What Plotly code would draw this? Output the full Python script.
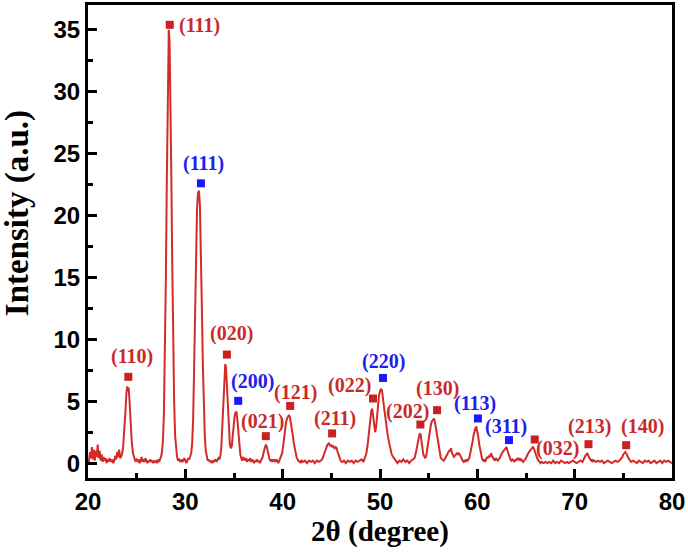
import plotly.graph_objects as go

# ---- XRD pattern ----
two_theta = [
    20.0, 20.1, 20.2, 20.3, 20.4, 20.5, 20.6, 20.7, 20.8, 20.9, 21.0, 21.1, 21.2, 21.3, 21.4, 21.5, 21.6, 21.7, 21.8, 21.9,
    22.0, 22.1, 22.2, 22.3, 22.4, 22.5, 22.6, 22.7, 22.8, 22.9, 23.0, 23.1, 23.2, 23.3, 23.45, 23.6, 23.75, 23.85, 23.95, 24.03,
    24.1, 24.17, 24.27, 24.38, 24.5, 24.62, 24.75, 24.85, 25.0, 25.1, 25.2, 25.3, 25.4, 25.5, 25.6, 25.7, 25.8, 25.9, 26.0, 26.1,
    26.2, 26.3, 26.4, 26.5, 26.6, 26.7, 26.8, 26.9, 27.0, 27.1, 27.2, 27.3, 27.4, 27.5, 27.6, 27.7, 27.8, 27.9, 28.0, 28.1,
    28.2, 28.3, 28.38, 28.45, 28.55, 28.65, 28.75, 28.85, 28.95, 29.05, 29.15, 29.25, 29.35, 29.5, 29.6, 29.7, 29.8, 29.9, 30.0, 30.1,
    30.2, 30.3, 30.4, 30.5, 30.6, 30.7, 30.8, 30.9, 31.0, 31.1, 31.2, 31.3, 31.4, 31.5, 31.6, 31.7, 31.8, 31.9, 32.0, 32.1,
    32.2, 32.3, 32.4, 32.5, 32.6, 32.7, 32.8, 32.9, 33.0, 33.1, 33.2, 33.3, 33.4, 33.5, 33.6, 33.7, 33.8, 33.9, 34.0, 34.1,
    34.18, 34.28, 34.38, 34.48, 34.58, 34.68, 34.78, 34.88, 34.98, 35.08, 35.18, 35.26, 35.35, 35.45, 35.55, 35.65, 35.75, 35.85, 35.95, 36.05,
    36.15, 36.25, 36.35, 36.45, 36.55, 36.65, 36.75, 36.85, 36.95, 37.05, 37.15, 37.25, 37.35, 37.45, 37.55, 37.65, 37.75, 37.85, 37.95, 38.05,
    38.15, 38.25, 38.35, 38.45, 38.55, 38.65, 38.75, 38.85, 38.95, 39.05, 39.15, 39.25, 39.35, 39.45, 39.55, 39.65, 39.75, 39.85, 39.95, 40.05,
    40.15, 40.25, 40.35, 40.45, 40.55, 40.65, 40.75, 40.85, 40.95, 41.05, 41.15, 41.25, 41.35, 41.45, 41.55, 41.65, 41.75, 41.85, 41.95, 42.1,
    42.3, 42.5, 42.7, 42.9, 43.1, 43.3, 43.5, 43.7, 43.9, 44.05, 44.2, 44.35, 44.5, 44.6, 44.75, 44.85, 44.95, 45.05, 45.15, 45.25,
    45.35, 45.45, 45.55, 45.65, 45.75, 45.85, 45.95, 46.1, 46.3, 46.5, 46.7, 46.9, 47.1, 47.3, 47.5, 47.7, 47.9, 48.1, 48.3, 48.45,
    48.6, 48.75, 48.9, 49.0, 49.1, 49.2, 49.3, 49.4, 49.5, 49.6, 49.7, 49.8, 49.9, 50.0, 50.1, 50.2, 50.3, 50.4, 50.5, 50.6,
    50.7, 50.8, 50.9, 51.0, 51.1, 51.2, 51.35, 51.5, 51.65, 51.8, 52.0, 52.2, 52.4, 52.6, 52.8, 53.0, 53.2, 53.4, 53.55, 53.7,
    53.85, 53.95, 54.05, 54.15, 54.25, 54.35, 54.45, 54.55, 54.65, 54.75, 54.85, 54.95, 55.05, 55.15, 55.25, 55.35, 55.45, 55.55, 55.65, 55.75,
    55.85, 55.95, 56.05, 56.15, 56.25, 56.4, 56.55, 56.7, 56.85, 57.0, 57.1, 57.2, 57.3, 57.4, 57.5, 57.6, 57.7, 57.8, 57.9, 58.0,
    58.1, 58.2, 58.3, 58.4, 58.5, 58.6, 58.7, 58.8, 58.9, 59.0, 59.1, 59.2, 59.35, 59.5, 59.6, 59.7, 59.8, 59.9, 60.0, 60.1,
    60.2, 60.3, 60.4, 60.5, 60.6, 60.7, 60.8, 60.9, 61.0, 61.1, 61.2, 61.3, 61.4, 61.5, 61.6, 61.7, 61.8, 61.9, 62.0, 62.1,
    62.2, 62.3, 62.4, 62.5, 62.6, 62.7, 62.8, 62.9, 63.0, 63.1, 63.2, 63.3, 63.4, 63.5, 63.6, 63.7, 63.8, 63.9, 64.0, 64.1,
    64.2, 64.3, 64.4, 64.5, 64.6, 64.7, 64.8, 64.9, 65.0, 65.1, 65.2, 65.3, 65.4, 65.5, 65.6, 65.7, 65.8, 65.9, 66.0, 66.1,
    66.2, 66.3, 66.4, 66.5, 66.6, 66.8, 67.0, 67.2, 67.4, 67.6, 67.8, 67.9, 68.0, 68.2, 68.4, 68.6, 68.8, 69.0, 69.2, 69.4,
    69.6, 69.8, 70.0, 70.2, 70.4, 70.6, 70.8, 70.9, 71.0, 71.1, 71.2, 71.3, 71.4, 71.5, 71.6, 71.7, 71.8, 71.9, 72.0, 72.2,
    72.4, 72.6, 72.8, 73.0, 73.2, 73.4, 73.6, 73.8, 74.0, 74.2, 74.4, 74.6, 74.8, 74.9, 75.0, 75.1, 75.2, 75.3, 75.4, 75.5,
    75.6, 75.7, 75.8, 76.0, 76.2, 76.4, 76.6, 76.8, 77.0, 77.2, 77.4, 77.6, 77.8, 78.0, 78.2, 78.4, 78.6, 78.8, 79.0, 79.2,
    79.4, 79.6, 79.8, 80.0,
]
intensity = [
    0.3, 0.1, 0.9, 0.4, 1.3, 0.3, 1.1, 0.2, 1.0, 0.5, 1.5, 0.4, 1.0, 0.2, 0.7, 0.1, 0.5, 0.2, 0.4, 0.0,
    0.3, 0.1, 0.4, 0.2, 0.1, 0.3, 0.0, 0.2, 0.6, 0.3, 0.9, 0.5, 1.1, 0.4, 0.6, 1.2, 2.6, 4.2, 5.7, 6.2,
    5.8, 6.1, 5.0, 3.2, 1.7, 0.8, 0.4, 0.2, 0.3, 0.1, 0.3, 0.0, 0.2, 0.5, 0.1, 0.3, 0.1, 0.4, 0.2, 0.0,
    0.2, 0.1, 0.3, 0.1, 0.2, 0.0, 0.2, 0.1, 0.2, 0.0, 0.3, 0.1, 0.3, 0.5, 0.9, 1.8, 4.0, 8.5, 15.0, 23.0,
    30.5, 35.0, 34.0, 30.5, 24.0, 16.5, 10.0, 5.0, 2.2, 1.0, 0.5, 0.2, 0.3, 0.1, 0.3, 0.1, 0.2, 0.4, 0.2, 0.0,
    0.2, 0.4, 0.3, 0.5, 0.8, 1.6, 3.5, 7.5, 12.5, 17.0, 20.5, 21.8, 22.0, 20.8, 17.5, 12.5, 8.0, 4.5, 2.2, 1.0,
    0.5, 0.2, 0.3, 0.1, 0.2, 0.0, 0.2, 0.1, 0.2, 0.3, 0.1, 0.2, 0.4, 0.3, 0.6, 1.3, 2.8, 4.8, 6.8, 8.0,
    7.7, 6.0, 4.0, 2.4, 1.5, 1.2, 1.4, 2.3, 3.3, 3.9, 4.1, 4.1, 3.5, 2.4, 1.3, 0.7, 0.4, 0.2, 0.5, 0.3,
    0.2, 0.4, 0.1, 0.3, 0.2, 0.4, 0.1, 0.3, 0.2, 0.0, 0.2, 0.1, 0.3, 0.1, 0.2, 0.0, 0.2, 0.3, 0.5, 0.9,
    1.2, 1.45, 1.4, 1.0, 0.6, 0.3, 0.2, 0.3, 0.1, 0.3, 0.2, 0.1, 0.3, 0.2, 0.0, 0.2, 0.3, 0.5, 0.8, 1.4,
    2.1, 2.8, 3.3, 3.6, 3.8, 3.9, 3.7, 3.3, 2.8, 2.2, 1.6, 1.1, 0.7, 0.4, 0.3, 0.1, 0.2, 0.0, 0.2, 0.1,
    0.2, 0.0, 0.2, 0.1, 0.2, 0.0, 0.2, 0.1, 0.2, 0.3, 0.6, 1.0, 1.3, 1.5, 1.6, 1.4, 1.5, 1.3, 1.4, 1.3,
    1.2, 1.3, 1.2, 0.9, 0.6, 0.4, 0.2, 0.1, 0.2, 0.0, 0.2, 0.1, 0.2, 0.0, 0.2, 0.1, 0.2, 0.3, 0.1, 0.4,
    0.8, 1.6, 2.8, 3.7, 4.2, 4.4, 3.6, 2.8, 2.5, 2.9, 3.9, 4.9, 5.5, 5.8, 6.0, 5.9, 5.4, 4.6, 4.0, 3.3,
    2.8, 2.2, 1.8, 1.4, 1.0, 0.7, 0.5, 0.3, 0.2, 0.0, 0.2, 0.1, 0.3, 0.1, 0.2, 0.0, 0.2, 0.3, 0.4, 0.9,
    1.5, 2.0, 2.3, 2.4, 2.0, 1.3, 0.7, 0.5, 0.4, 0.6, 1.1, 1.8, 2.4, 2.9, 3.2, 3.4, 3.55, 3.6, 3.3, 2.8,
    2.2, 1.6, 1.1, 0.7, 0.4, 0.3, 0.2, 0.4, 0.6, 0.8, 1.0, 1.0, 1.2, 0.8, 0.6, 0.5, 0.6, 0.7, 0.8, 0.7,
    0.8, 0.7, 0.5, 0.3, 0.2, 0.1, 0.2, 0.1, 0.3, 0.2, 0.3, 0.5, 1.0, 1.7, 2.2, 2.6, 2.85, 2.9, 2.6, 2.1,
    1.5, 1.0, 0.6, 0.3, 0.2, 0.3, 0.1, 0.3, 0.5, 0.4, 0.6, 0.5, 0.8, 0.6, 0.4, 0.3, 0.2, 0.4, 0.3, 0.2,
    0.3, 0.4, 0.6, 0.8, 0.9, 1.0, 1.1, 1.2, 1.3, 1.0, 0.7, 0.5, 0.3, 0.2, 0.3, 0.2, 0.1, 0.3, 0.2, 0.4,
    0.3, 0.4, 0.2, 0.3, 0.2, 0.1, 0.2, 0.3, 0.4, 0.6, 0.8, 0.9, 1.0, 1.1, 1.2, 1.3, 1.2, 0.9, 0.7, 0.5,
    0.3, 0.2, 0.1, 0.0, 0.1, 0.0, 0.1, 0.0, 0.1, 0.0, 0.2, 0.1, 0.0, 0.1, 0.0, 0.2, 0.1, 0.0, 0.1, 0.0,
    0.1, 0.2, 0.1, 0.0, 0.1, 0.2, 0.1, 0.3, 0.4, 0.6, 0.7, 0.8, 0.6, 0.4, 0.3, 0.2, 0.3, 0.1, 0.2, 0.1,
    0.2, 0.1, 0.2, 0.0, 0.1, 0.2, 0.1, 0.0, 0.1, 0.2, 0.1, 0.2, 0.4, 0.5, 0.7, 0.8, 0.9, 0.8, 0.6, 0.4,
    0.3, 0.2, 0.1, 0.2, 0.1, 0.0, 0.2, 0.1, 0.0, 0.2, 0.1, 0.2, 0.0, 0.1, 0.2, 0.0, 0.1, 0.2, 0.0, 0.2,
    0.1, 0.2, 0.1, 0.0,
]

# ---- phase markers (reflection positions) ----
red_peak_x = [24.14, 28.4, 34.27, 38.27, 40.77, 45.08, 49.28, 54.15, 55.86, 65.9, 71.42, 75.29]
red_peak_y = [6.97, 35.4, 8.77, 2.18, 4.62, 2.4, 5.22, 3.12, 4.28, 1.91, 1.53, 1.45]
red_hkl = ["(110)", "(111)", "(020)", "(021)", "(121)", "(211)", "(022)", "(202)", "(130)", "(032)", "(213)", "(140)"]

blue_peak_x = [31.6, 35.43, 50.31, 60.06, 63.25]
blue_peak_y = [22.6, 5.03, 6.88, 3.61, 1.86]
blue_hkl = ["(111)", "(200)", "(220)", "(113)", "(311)"]

# label text anchor (data coords) for each hkl label -- layout only
red_label_pos = [(24.49, 8.58), (31.5, 35.35), (34.75, 10.47), (37.93, 3.33), (41.35, 5.71), (45.35, 3.61),
                 (46.89, 6.3), (52.82, 4.14), (55.86, 6.03), (68.28, 1.19), (71.53, 2.99), (77.0, 2.93)]
blue_label_pos = [(31.84, 24.19), (36.9, 6.56), (50.31, 8.18), (59.72, 4.82), (62.98, 2.93)]

x_ticks = [20, 30, 40, 50, 60, 70, 80]
y_ticks = [0, 5, 10, 15, 20, 25, 30, 35]

LINE_RED = "#d42a2a"
MARK_RED = "#cc1f1f"
TEXT_RED = "#c92a2a"
MARK_BLUE = "#1a1aff"
TEXT_BLUE = "#2020ee"

fig = go.Figure()
fig.add_trace(go.Scatter(x=two_theta, y=intensity, mode="lines",
                         line=dict(color=LINE_RED, width=2), showlegend=False, hoverinfo="skip"))
fig.add_trace(go.Scatter(x=red_peak_x, y=red_peak_y, mode="markers",
                         marker=dict(symbol="square", size=8, color=MARK_RED), showlegend=False))
fig.add_trace(go.Scatter(x=blue_peak_x, y=blue_peak_y, mode="markers",
                         marker=dict(symbol="square", size=8, color=MARK_BLUE), showlegend=False))

label_font = dict(family="Liberation Serif, Times New Roman, serif", size=20, weight="bold")
for txt, (lx, ly) in zip(red_hkl, red_label_pos):
    fig.add_annotation(x=lx, y=ly, text=txt, showarrow=False, xanchor="center", yanchor="middle",
                       font=dict(**label_font, color=TEXT_RED))
for txt, (lx, ly) in zip(blue_hkl, blue_label_pos):
    fig.add_annotation(x=lx, y=ly, text=txt, showarrow=False, xanchor="center", yanchor="middle",
                       font=dict(**label_font, color=TEXT_BLUE))

tick_font = dict(family="Liberation Sans, Arial, sans-serif", size=24, weight="bold", color="black")
title_font = dict(family="Liberation Serif, Times New Roman, serif", weight="bold", color="black")

# y-axis title as a rotated annotation (placed like the reference)
fig.add_annotation(xref="paper", yref="paper", x=-0.1215, y=0.56, text="Intensity (a.u.)",
                   textangle=-90, showarrow=False, xanchor="center", yanchor="middle",
                   font=dict(**title_font, size=33))

fig.update_xaxes(range=[20, 80], tickvals=x_ticks, ticks="inside", ticklen=9, tickwidth=2.5,
                 tickcolor="black", showline=True, linewidth=3, linecolor="black", mirror=True,
                 showgrid=False, zeroline=False, tickfont=tick_font, automargin=False,
                 minor=dict(dtick=5, ticks="inside", ticklen=5, tickwidth=2.5, tickcolor="black", showgrid=False),
                 title=dict(text="2θ (degree)", font=dict(**title_font, size=29), standoff=2))
fig.update_yaxes(range=[-1.2, 37.0], tickvals=y_ticks, ticks="inside", ticklen=9, tickwidth=2.5,
                 tickcolor="black", showline=True, linewidth=3, linecolor="black", mirror=True,
                 showgrid=False, zeroline=False, tickfont=tick_font, automargin=False,
                 minor=dict(dtick=2.5, ticks="inside", ticklen=5, tickwidth=2.5, tickcolor="black", showgrid=False))

fig.update_layout(width=688, height=554, plot_bgcolor="white", paper_bgcolor="white",
                  margin=dict(l=88, r=16, t=5, b=76, autoexpand=False), showlegend=False)

fig.write_html("out.html", config={"displayModeBar": False},
               post_script="document.body.style.margin='0';document.body.style.overflow='hidden';")
